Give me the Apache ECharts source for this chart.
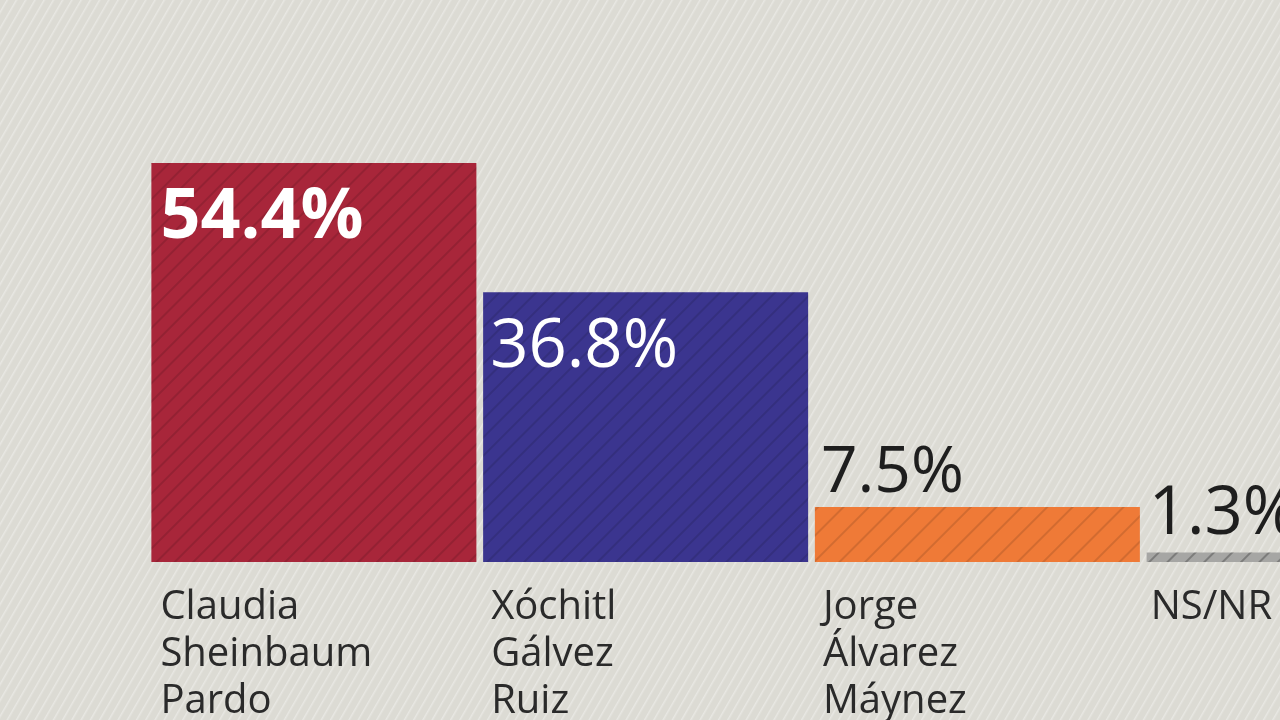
<!DOCTYPE html>
<html>
<head>
<meta charset="utf-8">
<script src="https://cdn.jsdelivr.net/npm/echarts@6/dist/echarts.min.js"></script>
<style>
  html, body { margin: 0; padding: 0; width: 1280px; height: 720px; overflow: hidden; }
  body {
    background-color: #dcdbd4;
    background-image: repeating-linear-gradient(120deg, rgba(255,255,255,0.0) 0px, rgba(255,255,255,0.0) 5px, rgba(255,255,255,0.35) 6px, rgba(255,255,255,0.0) 8px);
  }
  #chart { width: 1480px; height: 720px; }
</style>
</head>
<body>
<div id="chart"></div>
<script>
// ---- data ----
const categories = ['Claudia\nSheinbaum\nPardo', 'Xóchitl\nGálvez\nRuiz', 'Jorge\nÁlvarez\nMáynez', 'NS/NR'];
const values = [54.4, 36.8, 7.5, 1.3];
const valueLabels = ['54.4%', '36.8%', '7.5%', '1.3%'];
const barColors = ['#a8263a', '#3b358f', '#ef7a37', '#a6a6a4'];

const FONT = '"Open Sans", "Noto Sans", sans-serif';

function decal(alpha, gap) {
  return {
    symbol: 'rect',
    symbolSize: 1,
    dashArrayX: [1, 0],
    dashArrayY: [2, gap],
    rotation: -Math.PI / 4,
    color: 'rgba(0,0,0,' + alpha + ')'
  };
}

const labelX = [9, 7, 6, 2];
const nameX = [9, 8, 8, 4];

const barData = values.map((v, i) => {
  const inside = i < 2;
  return {
    value: v,
    itemStyle: { color: barColors[i], decal: decal(i === 3 ? 0.25 : 0.12, i === 2 ? 16 : 11) },
    label: {
      show: true,
      formatter: valueLabels[i],
      position: inside ? [labelX[i], i === 0 ? 20 : 22] : [labelX[i], 0],
      align: 'left',
      verticalAlign: inside ? 'top' : 'bottom',
      offset: inside ? [0, 0] : [0, i === 2 ? -1 : -4],
      color: inside ? '#ffffff' : '#1e1e1e',
      fontWeight: i === 0 ? 'bold' : 'normal',
      fontSize: i === 0 ? 70 : (i === 2 ? 64 : 67),
      fontFamily: FONT
    }
  };
});

const nameData = values.map((v, i) => ({
  value: v,
  label: { position: [nameX[i], '100%'] }
}));

const chart = echarts.init(document.getElementById('chart'), null, { renderer: 'canvas' });
chart.setOption({
  backgroundColor: 'transparent',
  animation: false,
  grid: { left: 148, right: 5, top: 122, bottom: 158, containLabel: false },
  xAxis: {
    type: 'category',
    data: categories,
    axisLine: { show: false },
    axisTick: { show: false },
    axisLabel: { show: false }
  },
  yAxis: {
    type: 'value',
    min: 0,
    max: 60,
    show: false,
    splitLine: { show: false }
  },
  series: [
    {
      type: 'bar',
      barWidth: 325,
      data: barData,
      silent: true
    },
    {
      type: 'bar',
      barWidth: 325,
      barGap: '-100%',
      silent: true,
      data: nameData,
      itemStyle: { color: 'rgba(0,0,0,0)' },
      label: {
        show: true,
        formatter: p => p.name,
        offset: [0, 22],
        align: 'left',
        verticalAlign: 'top',
        color: '#2a2a2a',
        fontSize: 40,
        lineHeight: 47,
        fontFamily: FONT
      }
    }
  ]
});
</script>
</body>
</html>
